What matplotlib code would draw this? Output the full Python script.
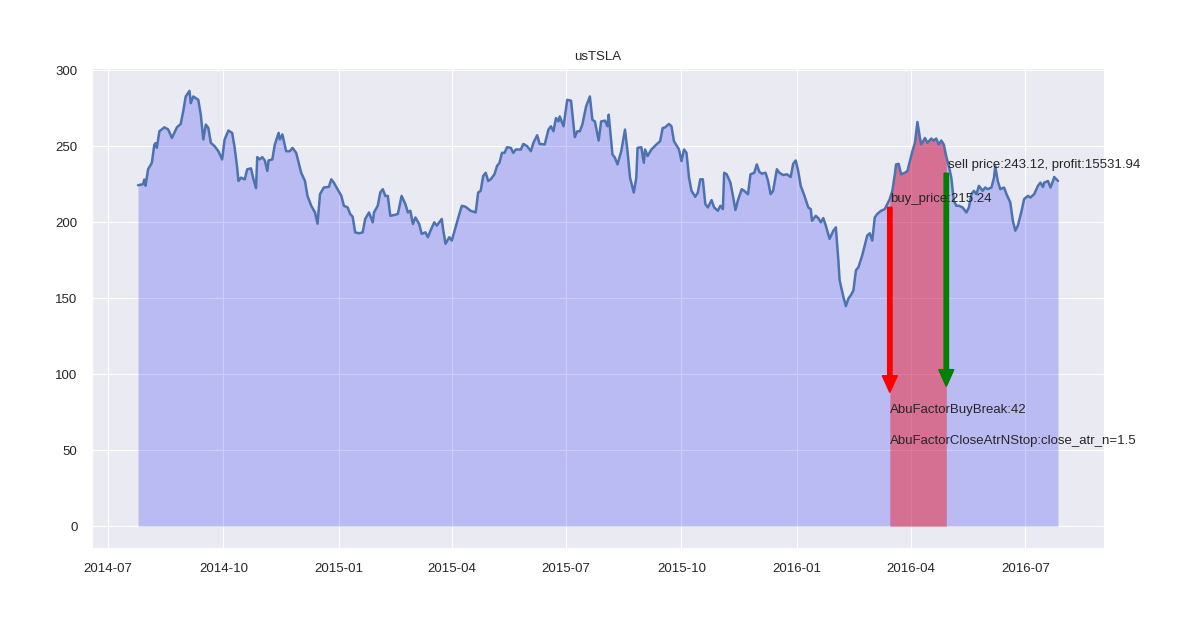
import numpy as np
import pandas as pd
import seaborn as sns
import matplotlib
matplotlib.use("Agg")
import matplotlib.pyplot as plt
import matplotlib.dates as mdates

# ── Données (jours depuis 2014-07-01, cours de clôture) ──
day_offsets = [
    24, 28, 29, 30, 32, 35, 37, 38, 39, 41,
    45, 48, 51, 55, 58, 60, 62, 65, 66, 68,
    70, 72, 74, 76, 78, 80, 82, 85, 88, 91,
    93, 96, 99, 101, 103, 104, 106, 109, 111, 114,
    116, 118, 119, 121, 123, 125, 127, 128, 131, 133,
    136, 137, 139, 142, 145, 147, 150, 154, 157, 159,
    162, 165, 167, 169, 172, 176, 178, 180, 183, 186,
    188, 191, 193, 195, 197, 200, 203, 205, 208, 211,
    212, 215, 217, 219, 221, 223, 225, 229, 231, 234,
    237, 239, 241, 243, 245, 248, 250, 253, 255, 257,
    260, 262, 266, 267, 269, 272, 274, 277, 280, 282,
    285, 289, 293, 295, 297, 299, 301, 303, 305, 308,
    310, 312, 314, 316, 318, 321, 323, 325, 329, 331,
    334, 337, 339, 342, 344, 348, 351, 353, 355, 357,
    359, 360, 363, 366, 369, 372, 374, 376, 378, 381,
    384, 386, 388, 391, 393, 396, 398, 399, 402, 404,
    406, 409, 412, 414, 416, 419, 421, 422, 425, 427,
    428, 430, 433, 437, 440, 442, 444, 447, 449, 451,
    455, 457, 459, 461, 463, 465, 468, 470, 472, 474,
    476, 478, 481, 483, 486, 488, 490, 491, 493, 496,
    498, 500, 502, 505, 507, 510, 512, 515, 517, 519,
    521, 524, 526, 528, 530, 533, 535, 538, 541, 544,
    546, 548, 550, 552, 555, 558, 560, 561, 564, 566,
    568, 570, 572, 575, 578, 580, 582, 583, 586, 588,
    590, 592, 594, 596, 598, 601, 603, 605, 607, 609,
    611, 613, 616, 619, 623, 625, 627, 628, 630, 632,
    635, 637, 639, 641, 643, 645, 647, 648, 651, 653,
    656, 658, 660, 662, 664, 666, 668, 670, 672, 674,
    676, 678, 681, 684, 686, 688, 690, 692, 694, 697,
    699, 701, 704, 706, 707, 709, 711, 714, 716, 719,
    721, 723, 725, 728, 730, 733, 735, 738, 741, 743,
    745, 746, 749, 751, 753, 754, 757,
]
close_prices = [
    224.3, 225.0, 228.0, 224.0, 234.8, 239.0, 251.0, 252.0, 249.0, 259.8,
    262.4, 261.0, 255.4, 262.4, 264.6, 272.9, 282.7, 286.4, 278.3, 282.7,
    281.6, 280.5, 270.7, 254.4, 264.2, 262.0, 252.2, 250.0, 246.7, 241.3,
    254.4, 260.3, 258.7, 248.9, 235.8, 227.1, 229.3, 228.2, 234.8, 235.4,
    228.2, 222.4, 242.8, 241.3, 242.8, 240.6, 233.7, 240.6, 241.3, 251.1,
    258.7, 254.4, 257.7, 246.7, 246.7, 248.9, 245.6, 232.5, 227.1, 217.3,
    210.8, 206.4, 199.0, 218.4, 222.8, 223.2, 228.2, 226.0, 221.7, 217.3,
    210.8, 209.7, 205.4, 203.6, 193.3, 192.7, 193.3, 202.1, 206.4, 199.9,
    206.4, 210.8, 219.5, 221.7, 217.3, 217.3, 204.2, 204.9, 205.4, 217.3,
    211.9, 206.4, 207.5, 198.8, 203.1, 198.8, 192.3, 193.3, 190.1, 194.4,
    199.9, 197.7, 202.1, 195.6, 185.8, 190.1, 187.9, 196.6, 205.4, 210.8,
    210.1, 207.5, 206.4, 219.5, 220.6, 230.4, 232.5, 227.1, 228.2, 231.5,
    236.9, 239.1, 245.6, 245.6, 249.3, 248.9, 245.6, 247.8, 247.8, 251.5,
    250.0, 246.7, 252.2, 257.2, 251.5, 251.1, 260.9, 263.1, 259.8, 268.5,
    266.3, 269.6, 263.1, 280.5, 279.9, 255.9, 259.8, 259.8, 264.2, 276.1,
    282.7, 267.4, 266.3, 253.7, 266.3, 266.8, 263.1, 270.7, 244.6, 242.4,
    238.0, 246.7, 260.9, 246.7, 229.3, 219.5, 229.3, 248.9, 249.3, 239.1,
    247.8, 243.5, 247.8, 251.1, 253.3, 261.9, 262.4, 264.6, 263.1, 253.3,
    247.8, 240.2, 247.8, 245.6, 229.3, 220.6, 216.7, 219.5, 228.2, 228.2,
    211.9, 209.7, 214.5, 209.7, 207.5, 210.8, 208.6, 232.5, 231.5, 226.0,
    217.3, 208.0, 214.5, 221.7, 220.6, 218.4, 231.5, 232.5, 238.0, 233.2,
    231.9, 232.5, 227.1, 218.4, 220.6, 234.8, 232.5, 231.0, 231.5, 229.7,
    238.4, 240.6, 233.7, 223.9, 217.3, 209.7, 208.6, 201.0, 204.2, 202.7,
    199.9, 202.7, 197.7, 189.0, 194.4, 196.6, 174.8, 161.8, 150.8, 144.8,
    149.8, 152.0, 155.2, 168.3, 170.4, 178.1, 184.6, 191.2, 192.7, 187.9,
    203.1, 205.4, 207.5, 208.6, 215.24, 220.6, 231.5, 238.0, 238.4, 231.5,
    232.5, 233.7, 240.2, 246.7, 252.2, 265.9, 255.4, 251.1, 255.4, 252.2,
    255.0, 253.7, 255.0, 251.1, 253.7, 251.1, 243.12, 236.9, 229.3, 214.0,
    210.8, 210.8, 209.7, 206.4, 209.7, 218.4, 220.6, 218.4, 223.9, 220.6,
    222.8, 221.7, 222.8, 229.3, 236.9, 227.1, 221.7, 222.8, 218.4, 212.9,
    201.0, 194.4, 197.7, 207.5, 215.2, 217.3, 216.2, 218.4, 223.9, 226.0,
    223.2, 226.0, 227.1, 222.8, 227.1, 229.7, 227.1,
]

symbol = "usTSLA"
buy_day, buy_price = 623, 215.24
sell_day, sell_price = 668, 243.12
profit = 15531.94
buy_arrow = (209.8, 88.0)    # début / pointe de la flèche rouge
sell_arrow = (232.2, 92.0)   # début / pointe de la flèche verte
factor_labels = ["AbuFactorBuyBreak:42", "AbuFactorCloseAtrNStop:close_atr_n=1.5"]
factor_label_y = [74.4, 54.4]

base = pd.Timestamp("2014-07-01")
dates = base + pd.to_timedelta(day_offsets, unit="D")
close = np.array(close_prices)
buy_date = base + pd.Timedelta(days=buy_day)
sell_date = base + pd.Timedelta(days=sell_day)

# ── Style ──────────────────────────────────────────────────────────────────
sns.set_style("darkgrid")
plt.rcParams["font.family"] = ["Liberation Sans", "DejaVu Sans"]
plt.rcParams["font.size"] = 9.5

fig, ax = plt.subplots(figsize=(12, 6.3), dpi=100)
fig.subplots_adjust(left=0.0767, right=0.92, top=0.892, bottom=0.13)

ax.plot(dates, close, color="#4C72B0", linewidth=1.8)
ax.fill_between(dates, 0, close, color="blue", alpha=0.2, linewidth=0)

in_trade = (dates >= buy_date) & (dates <= sell_date)
ax.fill_between(dates, 0, close, where=in_trade, color="red", alpha=0.4, linewidth=0)

# flèches d'achat / vente (largeur en jours, longueur en prix)
ax.arrow(mdates.date2num(buy_date), buy_arrow[0], 0, buy_arrow[1] - buy_arrow[0],
         width=3.5, head_width=12, head_length=11, length_includes_head=True,
         color="red", zorder=4)
ax.arrow(mdates.date2num(sell_date), sell_arrow[0], 0, sell_arrow[1] - sell_arrow[0],
         width=3.5, head_width=12, head_length=11, length_includes_head=True,
         color="green", zorder=4)

ax.text(buy_date, buy_price - 2.2, f"buy_price:{buy_price}", color="#262626", zorder=5)
ax.text(sell_date + pd.Timedelta(days=1), sell_price - 7.6,
        f"sell price:{sell_price}, profit:{profit}", color="#262626", zorder=5)
for label, y in zip(factor_labels, factor_label_y):
    ax.text(buy_date, y, label, color="#262626", zorder=5)

ax.set_title(symbol, fontsize=9.5, color="#262626")
ax.set_ylim(-14.4, 301.4)
ax.set_yticks(np.arange(0, 301, 50))
ax.xaxis.set_major_locator(mdates.MonthLocator(bymonth=[1, 4, 7, 10]))
ax.xaxis.set_major_formatter(mdates.DateFormatter("%Y-%m"))
ax.tick_params(axis="both", labelsize=9.5, pad=7, colors="#262626")

plt.savefig("out.png", dpi=100)
plt.close()
